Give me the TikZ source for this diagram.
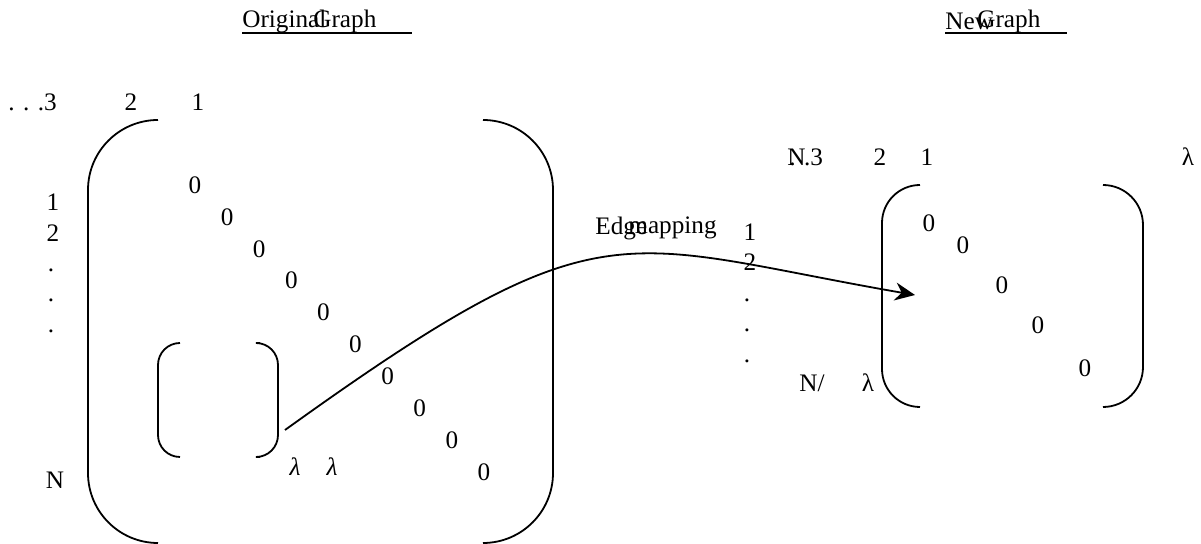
\documentclass[tikz,border=0pt]{standalone}
\usepackage{fontspec}
\setmainfont{Liberation Serif}
\usetikzlibrary{arrows.meta,positioning}

\begin{document}
\begin{tikzpicture}[x=0.5pt,y=-0.5pt,>=Stealth,
  lbl/.style={inner sep=0pt,font=\fontsize{12.6}{14}\selectfont},
  brk/.style={line width=0.9pt}]
  \useasboundingbox (0,0) rectangle (1201,544);
  % titles
  \node[lbl,anchor=west] (orig) at (242,21) {Original};
  \node[lbl,anchor=west] (origg) at (313,21) {Graph};
  \draw[line width=0.6pt] (242,33) -- (412,33);
  \node[lbl,anchor=west] (new) at (945,21) {New};
  \node[lbl,anchor=west] (newg) at (977,21) {Graph};
  \draw[line width=0.6pt] (945,33) -- (1067,33);
  % original adjacency matrix
  \node[lbl,anchor=west] (c3) at (8,102) {. . .3};
  \node[lbl] (c2) at (131,102) {2};
  \node[lbl] (c1) at (198,102) {1};
  \node[lbl] (r1) at (53,202) {1};
  \node[lbl] (r2) at (53,233) {2};
  \foreach \y [count=\i] in {270,300,331}
    \node[lbl] (rd\i) at (51,\y) {.};
  \node[lbl] (rn) at (55,480) {N};
  \draw[brk,rounded corners=35pt] (158,120) -- (88,120) -- (88,543) -- (158,543);
  \draw[brk,rounded corners=35pt] (483,120) -- (553,120) -- (553,543) -- (483,543);
  \foreach \k in {0,...,9}
    \node[lbl] (z\k) at (195+32.1*\k,185+31.9*\k) {0};
  % sub block
  \draw[brk,rounded corners=11pt] (180,343) -- (158,343) -- (158,457) -- (180,457);
  \draw[brk,rounded corners=11pt] (260,343) -- (278,343) -- (278,457) -- (260,457);
  \node[lbl] (la1) at (295,467) {\itshape λ};
  \node[lbl] (la2) at (332,467) {\itshape λ};
  % new graph matrix
  \node[lbl] (m1) at (750,232) {1};
  \node[lbl] (m2) at (750,262) {2};
  \foreach \y [count=\i] in {300,330,361}
    \node[lbl] (md\i) at (747,\y) {.};
  \node[lbl] (nsl) at (812,383) {N/};
  \node[lbl] (nla) at (868,383) {λ};
  \node[lbl,anchor=west] (nn) at (787,157) {N};
  \node[lbl,anchor=west] (n3) at (789,157) {. .3};
  \node[lbl] (n2) at (880,157) {2};
  \node[lbl] (n1) at (927,157) {1};
  \node[lbl] (nl) at (1188,157) {λ};
  \draw[brk,rounded corners=19pt] (920,185) -- (882,185) -- (882,407) -- (920,407);
  \draw[brk,rounded corners=20pt] (1103,185) -- (1143,185) -- (1143,407) -- (1103,407);
  \foreach \x/\y [count=\i] in {929/223,963/245,1002/285,1038/325,1085/368}
    \node[lbl] (nz\i) at (\x,\y) {0};
  % mapping
  \node[lbl,anchor=west] (edge) at (595,228) {Edge};
  \node[lbl,anchor=west] (mapg) at (628,228) {mapping};
  \coordinate (sub) at (285,430);
  \coordinate (tgt) at (915,295);
  \draw[->,line width=0.9pt,-{Stealth[length=10pt,width=9pt]}] (sub) .. controls (605,200) and (615,243) .. (tgt);
\end{tikzpicture}
\end{document}
